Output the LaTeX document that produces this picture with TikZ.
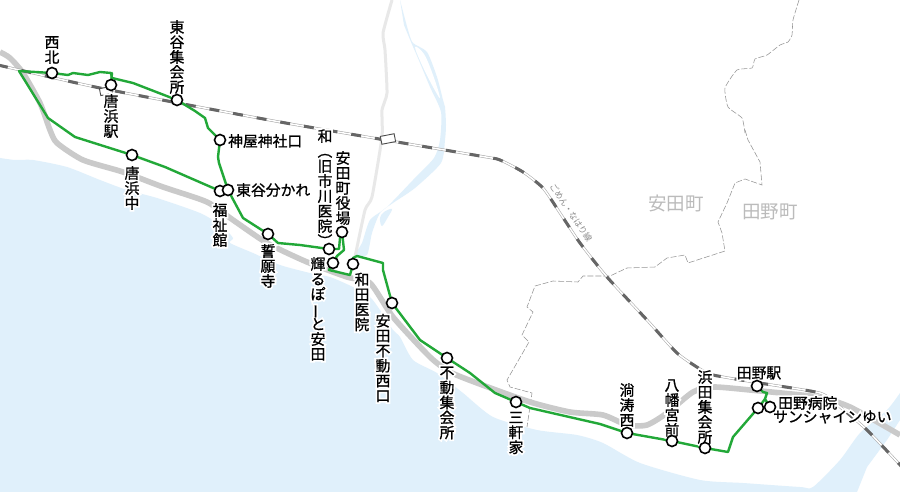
\documentclass[tikz,border=0pt]{standalone}
\usepackage{fontspec}
\setmainfont{Noto Sans CJK JP}[FakeBold=1]
\newfontfamily\halofont{Noto Sans CJK JP}[FakeBold=25]
\newfontfamily\plainfont{Noto Sans CJK JP}
\definecolor{sea}{HTML}{E0F0FB}
\definecolor{routegreen}{HTML}{22A838}
\definecolor{roadgray}{HTML}{CACACA}
\definecolor{roadlight}{HTML}{E8E8E8}
\definecolor{railgray}{HTML}{666666}
\definecolor{townlabel}{HTML}{BBBBBB}
\newsavebox\hlW
\newsavebox\hlK
\newcommand\HL[1]{\sbox\hlW{\color{white}\halofont #1}\sbox\hlK{#1}%
  \makebox[0pt][l]{\usebox\hlW}\usebox\hlK}
\newcommand\VT[1]{\parbox{22pt}{\centering\baselineskip=15pt\lineskiplimit=-30pt #1}}
\pgfdeclarelayer{back}
\pgfdeclarelayer{mid}
\pgfdeclarelayer{texts}
\pgfsetlayers{back,mid,texts,main}
\tikzset{
  stn/.style={circle,draw=black,fill=white,line width=1.6pt,minimum size=11pt,inner sep=0pt},
  lab/.style={inner sep=0pt,font=\fontsize{14.8pt}{15pt}\selectfont,text=black},
  route/.style={draw=routegreen,line width=2.4pt,line join=round,line cap=round},
  road/.style={draw=roadgray,line width=5.6pt,line join=round},
  roadthin/.style={draw=roadlight,line width=3pt,line join=round},
  boundary/.style={draw=black!42,line width=0.55pt,dash pattern=on 6pt off 2pt},
  railbase/.style={draw=black!35,line width=2.6pt},
  railwhite/.style={draw=white,line width=1.5pt},
  raildash/.style={draw=railgray,line width=3pt,dash pattern=on 10pt off 14pt},
  railstop/.style={draw=black!70,fill=white,line width=0.9pt,minimum width=14pt,minimum height=8pt,inner sep=0pt,rotate=11},
  town/.style={inner sep=0pt,font=\plainfont\fontsize{18.5pt}{20pt}\selectfont,text=townlabel}
}
\begin{document}
\begin{tikzpicture}[x=1pt,y=-1pt]
\useasboundingbox (0,0) rectangle (900,492);
\begin{pgfonlayer}{back}
\fill[white] (0,0) rectangle (900,492);
% sea
\fill[sea] plot[smooth,tension=0.4] coordinates {(0,158) (15,160) (33,160) (67,167) (100,180) (127,190) (157,198) (200,213) (222,226) (233,238) (230,243) (253,253) (280,265) (310,273) (330,277) (353,287) (370,297) (380,310) (393,330) (400,337) (413,360) (437,373) (463,393) (493,417) (537,430) (577,435) (603,443) (640,463) (700,480) (743,483) (800,487) (813,487) (840,460) (860,433) (887,410) (900,393)}
 -- (900,420) -- (887,440) -- (867,467) -- (857,492) -- (0,492) -- cycle;
% river
\fill[sea,even odd rule] plot[smooth,tension=0.4] coordinates {(400,0) (408,30) (413,43) (427,52) (437,77) (443,100) (445,107) (446,125) (445,140) (441,163) (415,188) (393,203) (380,213) (372,233) (367,255) (355,255) (362,243) (370,220) (387,207) (413,180) (434,158) (440,140) (441,112) (430,87) (420,63) (411,42) (404,25)} -- cycle
 plot[smooth cycle,tension=0.6] coordinates {(380,218) (384,212) (392,209) (388,217) (382,226)};
\fill[white] plot[smooth cycle,tension=0.6] coordinates {(415,47) (424,54) (433,75) (440,98) (432,85) (422,65)};
% boundary
\draw[boundary] plot[smooth,tension=0.3] coordinates {(799,0) (793,20) (792,35) (788,42) (780,45) (767,55) (755,59) (752,68) (737,70) (725,88) (728,107) (742,118) (745,133)};
\draw[boundary] (745,130) -- (748,140) -- (760,162) -- (762,185) -- (745,179) -- (735,183) -- (727,203) -- (718,222) -- (722,233) -- (725,251) -- (688,263) -- (685,255) -- (667,258) -- (655,267) -- (627,268) -- (610,276) -- (583,276) -- (578,282) -- (553,281) -- (535,286) -- (527,307) -- (533,312) -- (522,335) -- (529,342) -- (507,380) -- (510,387) -- (532,393) -- (527,427);
% roads
\draw[roadthin] plot[smooth,tension=0.3] coordinates {(392,0) (383,33) (385,50) (387,93) (382,110) (382,137) (372,197) (365,210) (355,257)};
\draw[road] plot[smooth,tension=0.4] coordinates {(0,52) (10,58) (23,73) (40,103) (50,130) (57,143) (83,160) (123,172) (163,187) (207,202) (233,220) (267,243) (307,262) (347,277) (370,283) (393,317) (430,357) (450,372) (477,383) (530,402) (570,412) (603,415) (627,425) (647,425) (667,413) (693,392) (713,387) (750,390) (817,397) (850,407) (900,435)};
% rail
\def\railpath{plot[smooth,tension=0.35] coordinates {(-2,65) (100,88) (280,122) (480,156) (500,160) (523,172) (543,188) (560,213) (580,243) (607,277) (647,320) (677,353) (700,369) (713,375) (753,382) (820,393) (840,407) (867,430) (902,467)}}
\draw[railbase] \railpath;
\draw[railwhite] \railpath;
\draw[raildash] \railpath;
\node[railstop] (stopA) at (388,139) {};
\node[railstop,minimum width=12pt,minimum height=7pt] (stopB) at (106,91) {};
\end{pgfonlayer}
% stations
\node[stn] (s1) at (52,73) {};
\node[stn] (s2) at (111,85) {};
\node[stn] (s3) at (177,100) {};
\node[stn] (s4) at (220,140) {};
\node[stn] (s5) at (132,155) {};
\node[stn] (s6) at (220,191) {};
\node[stn] (s7) at (228,190) {};
\node[stn] (s8) at (268,234) {};
\node[stn] (s9) at (342,232) {};
\node[stn] (s10) at (329,249) {};
\node[stn] (s11) at (333,263) {};
\node[stn] (s12) at (353,264) {};
\node[stn] (s13) at (392,303) {};
\node[stn] (s14) at (447,358) {};
\node[stn] (s15) at (516,402) {};
\node[stn] (s16) at (627,433) {};
\node[stn] (s17) at (672,441) {};
\node[stn] (s18) at (705,448) {};
\node[stn] (s19) at (757,386) {};
\node[stn] (s20) at (770,407) {};
\node[stn] (s21) at (758,408) {};
\coordinate (junc) at (19,71);
% routes
\begin{pgfonlayer}{mid}
\draw[route] (junc) -- (s1.center) -- (68,75) -- (73,73) -- (88,75) -- (100,72) -- (111,73) -- (112,78) -- (133,83) -- (s3.center) -- (195,111) -- (205,118) -- (208,128) -- (s4.center) -- (218,157) -- (219,163) -- (s7.center) -- (243,218) -- (s8.center) -- (278,243) -- (300,245) -- (s10.center) -- (339,249) -- (340,238) -- (s9.center);
\draw[route] (112,73) -- (s2.center);
\draw[route] (junc) -- (48,118) -- (75,137) -- (s5.center) -- (165,167) -- (s6.center);
\draw[route] (s9.center) -- (344,250) -- (337,256) -- (s11.center);
\draw[route] (s11.center) -- (329,270) -- (350,275) -- (s12.center);
\draw[route] (s12.center) -- (353,258) -- (357,256) -- (383,263) -- (383,270) -- (s13.center) -- (420,340) -- (s14.center) -- (470,373) -- (495,393) -- (s15.center) -- (530,408) -- (600,424) -- (s16.center) -- (s17.center) -- (s18.center) -- (728,452) -- (733,437) -- (s21.center);
\draw[route] (s19.center) -- (763,392) -- (767,393) -- (765,399) -- (s20.center);
\draw[route] (s21.center) -- (762,403) -- (765,399);
\end{pgfonlayer}
% labels
\begin{pgfonlayer}{texts}
\node[lab] (l1) at (52,50) {\HL{\VT{西\\北}}};
\node[lab] (l2) at (177,57) {\HL{\VT{東\\谷\\集\\会\\所}}};
\node[lab] (l3) at (111,116) {\HL{\VT{唐\\浜\\駅}}};
\node[lab,anchor=west] (l4) at (228,141) {\HL{神屋神社口}};
\node[lab] (l5) at (132,188) {\HL{\VT{唐\\浜\\中}}};
\node[lab] (l6) at (220,225) {\HL{\VT{福\\祉\\館}}};
\node[lab,anchor=west] (l7) at (236,190) {\HL{東谷分かれ}};
\node[lab] (l8) at (268,266) {\HL{\VT{誓\\願\\寺}}};
\node[lab] (l9) at (343,188) {\HL{\VT{安\\田\\町\\役\\場}}};
\node[lab] (l10) at (325,188) {\HL{\VT{和\\︵\\旧\\市\\川\\医\\院\\︶}}};
\node[lab] (l11) at (318,309) {\HL{\VT{輝\\る\\ぽ\\\rotatebox[origin=c]{90}{ー}\\と\\安\\田}}};
\node[lab] (l12) at (362,302) {\HL{\VT{和\\田\\医\\院}}};
\node[lab] (l13) at (383,358) {\HL{\VT{安\\田\\不\\動\\西\\口}}};
\node[lab] (l14) at (447,403) {\HL{\VT{不\\動\\集\\会\\所}}};
\node[lab] (l15) at (516,433) {\HL{\VT{三\\軒\\家}}};
\node[lab] (l16) at (627,405) {\HL{\VT{淌\\涛\\西}}};
\node[lab] (l17) at (672,408) {\HL{\VT{八\\幡\\宮\\前}}};
\node[lab] (l18) at (705,407) {\HL{\VT{浜\\田\\集\\会\\所}}};
\node[lab] (l19) at (759,373) {\HL{田野駅}};
\node[lab,anchor=west] (l20) at (778,403) {\HL{田野病院}};
\node[lab,anchor=west] (l21) at (773,417) {\HL{サンシャインゆい}};
\node[town] (t1) at (676,203) {安田町};
\node[town] (t2) at (770,212) {田野町};
\node[inner sep=0pt,rotate=-56,text=black!45,font=\plainfont\fontsize{8.5pt}{9pt}\selectfont] (t3) at (571,213) {ごめん・なはり線};
\end{pgfonlayer}
\end{tikzpicture}
\end{document}
